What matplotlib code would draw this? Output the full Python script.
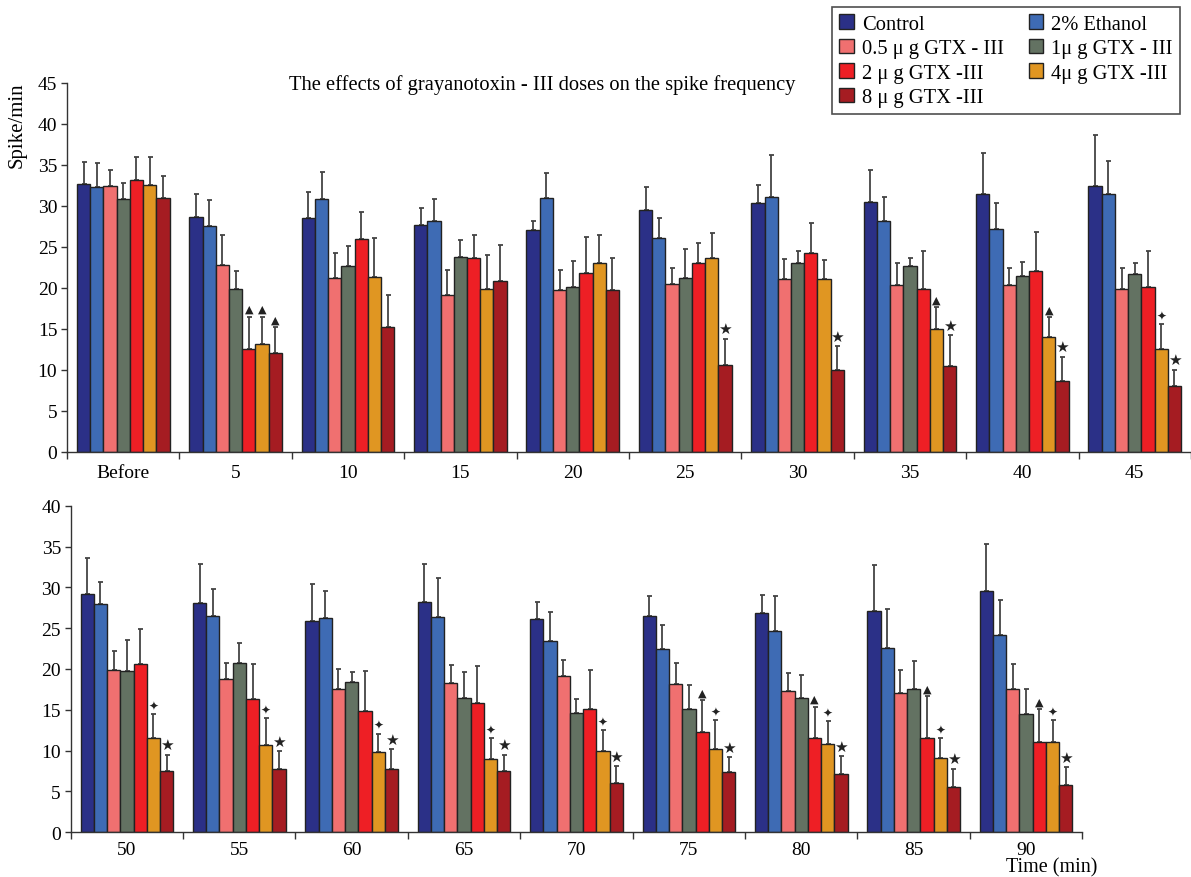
import matplotlib
matplotlib.use('Agg')
import matplotlib.pyplot as plt
import numpy as np

# serif font, close to the original's typeface
plt.rcParams['font.family'] = ['Liberation Serif', 'DejaVu Serif']

times = ['Before', '5', '10', '15', '20', '25', '30', '35', '40', '45',
         '50', '55', '60', '65', '70', '75', '80', '85', '90']

series_names = ['Control', '2% Ethanol', '0.5 μ g GTX - III', '1μ g GTX - III',
                '2 μ g GTX -III', '4μ g GTX -III', '8 μ g GTX -III']
colors = ['#2B3087', '#3E6BB4', '#F07070', '#637262', '#EE1F25', '#E09622', '#A51C22']

# mean spike/min for each series
control = [32.7, 28.7, 28.5, 27.7, 27.1, 29.5, 30.4, 30.5, 31.4, 32.4,
           29.2, 28.1, 25.9, 28.2, 26.1, 26.5, 26.9, 27.1, 29.6]
ethanol = [32.3, 27.5, 30.9, 28.2, 31.0, 26.1, 31.1, 28.1, 27.2, 31.5,
           27.9, 26.5, 26.3, 26.4, 23.4, 22.5, 24.7, 22.6, 24.2]
gtx_05 = [32.4, 22.8, 21.2, 19.1, 19.7, 20.5, 21.1, 20.3, 20.3, 19.8,
          19.9, 18.8, 17.6, 18.3, 19.1, 18.2, 17.3, 17.1, 17.6]
gtx_1 = [30.8, 19.9, 22.7, 23.8, 20.1, 21.2, 23.0, 22.7, 21.4, 21.7,
         19.7, 20.7, 18.4, 16.5, 14.6, 15.1, 16.5, 17.6, 14.5]
gtx_2 = [33.2, 12.5, 26.0, 23.6, 21.8, 23.0, 24.2, 19.9, 22.1, 20.1,
         20.6, 16.3, 14.9, 15.8, 15.1, 12.3, 11.5, 11.6, 11.0]
gtx_4 = [32.6, 13.1, 21.3, 19.9, 23.0, 23.6, 21.1, 15.0, 14.0, 12.5,
         11.5, 10.7, 9.8, 9.0, 10.0, 10.2, 10.8, 9.1, 11.0]
gtx_8 = [31.0, 12.1, 15.2, 20.8, 19.7, 10.6, 10.0, 10.5, 8.6, 8.0,
         7.5, 7.8, 7.8, 7.5, 6.0, 7.4, 7.1, 5.5, 5.8]

# upper error bars
control_err = [2.7, 2.7, 3.2, 2.1, 1.1, 2.8, 2.2, 3.9, 5.0, 6.2,
               4.4, 4.7, 4.5, 4.6, 2.1, 2.4, 2.2, 5.6, 5.7]
ethanol_err = [2.9, 3.2, 3.2, 2.7, 3.0, 2.4, 5.1, 3.0, 3.2, 4.0,
               2.7, 3.3, 3.3, 4.7, 3.6, 2.9, 4.2, 4.7, 4.2]
gtx_05_err = [2.0, 3.6, 3.0, 3.1, 2.5, 1.9, 2.4, 2.7, 2.1, 2.6,
              2.3, 1.9, 2.4, 2.2, 2.0, 2.5, 2.2, 2.8, 3.0]
gtx_1_err = [2.0, 2.2, 2.4, 2.0, 3.2, 3.5, 1.5, 0.9, 1.8, 1.3,
             3.9, 2.5, 1.2, 3.1, 1.7, 2.9, 2.8, 3.4, 3.1]
gtx_2_err = [2.8, 4.0, 3.2, 2.9, 4.4, 2.5, 3.7, 4.6, 4.7, 4.4,
             4.3, 4.3, 4.9, 4.6, 4.8, 3.9, 3.9, 5.1, 4.1]
gtx_4_err = [3.4, 3.4, 4.8, 4.1, 3.4, 3.1, 2.3, 2.6, 2.4, 3.1,
             3.0, 3.3, 2.3, 2.6, 2.5, 3.5, 2.8, 2.5, 2.7]
gtx_8_err = [2.6, 3.1, 3.9, 4.4, 4.0, 3.2, 2.9, 3.7, 3.0, 2.0,
             2.0, 2.1, 2.4, 2.0, 2.1, 1.8, 2.2, 2.3, 2.2]

# significance marks above the 2, 4 and 8 ug bars
TRI, CROSS, STAR = '▲', '✦', '★'
sig_2ug = ['', TRI, '', '', '', '', '', '', '', '',
           '', '', '', '', '', TRI, TRI, TRI, TRI]
sig_4ug = ['', TRI, '', '', '', '', '', TRI, TRI, CROSS,
           CROSS, CROSS, CROSS, CROSS, CROSS, CROSS, CROSS, CROSS, CROSS]
sig_8ug = ['', TRI, '', '', '', STAR, STAR, STAR, STAR, STAR,
           STAR, STAR, STAR, STAR, STAR, STAR, STAR, STAR, STAR]

means = [control, ethanol, gtx_05, gtx_1, gtx_2, gtx_4, gtx_8]
errs = [control_err, ethanol_err, gtx_05_err, gtx_1_err, gtx_2_err, gtx_4_err, gtx_8_err]
sigs = {4: sig_2ug, 5: sig_4ug, 6: sig_8ug}
sig_size = {TRI: 8, CROSS: 8.5, STAR: 11}

W, H = 1191, 878
fig = plt.figure(figsize=(W / 100, H / 100), dpi=100)


def px_rect(x0, y0, x1, y1):
    return [x0 / W, 1 - y1 / H, (x1 - x0) / W, (y1 - y0) / H]


ax_top = fig.add_axes(px_rect(67, 84, 1191, 452.7))
ax_bot = fig.add_axes(px_rect(70.7, 506.7, 1082.3, 833.3))

bar_w = 0.824 / 7
FS = 14
FS_TEXT = 14.8


def draw_panel(ax, start, stop, ymax, label_pad):
    n = stop - start
    x = np.arange(n)
    bars = []
    for i in range(7):
        pos = x + (i - 3) * bar_w
        vals = np.array(means[i][start:stop])
        e = np.array(errs[i][start:stop])
        b = ax.bar(pos, vals, bar_w, color=colors[i], edgecolor='#222222',
                   linewidth=1, zorder=2, label=series_names[i])
        bars.append(b)
        ax.errorbar(pos, vals, yerr=[np.zeros(n), e], fmt='none', ecolor='#444444',
                    elinewidth=1.3, capsize=1.8, capthick=1.3, zorder=1)
        if i in sigs:
            for k, s in enumerate(sigs[i][start:stop]):
                if s:
                    ax.text(pos[k], vals[k] + e[k] + 0.3, s, ha='center', va='bottom',
                            fontsize=sig_size[s], family='DejaVu Sans', color='#222222')

    ax.set_xlim(-0.5, n - 0.5)
    ax.set_ylim(0, ymax)
    ax.set_yticks(np.arange(0, ymax + 1, 5))
    ax.set_xticks(np.arange(n + 1) - 0.5)
    ax.set_xticklabels([])
    ax.set_xticks(x, minor=True)
    ax.set_xticklabels(times[start:stop], minor=True)
    ax.tick_params(axis='x', which='minor', length=0, pad=label_pad, labelsize=FS)
    ax.tick_params(axis='x', which='major', length=5, width=1, color='#333333')
    ax.tick_params(axis='y', length=4, width=1, color='#333333', labelsize=FS, pad=3)
    for side in ('top', 'right'):
        ax.spines[side].set_visible(False)
    for side in ('left', 'bottom'):
        ax.spines[side].set_color('#333333')
        ax.spines[side].set_linewidth(1)
    return bars


bars = draw_panel(ax_top, 0, 10, 45, 9)
draw_panel(ax_bot, 10, 19, 40, 6)

fig.text(289 / W, 1 - 85 / H, 'The effects of grayanotoxin - III doses on the spike frequency',
         ha='left', va='center', fontsize=FS_TEXT)
fig.text(17 / W, 1 - 82 / H, 'Spike/min', rotation=90, ha='center', va='top', fontsize=15)
fig.text(1052 / W, 1 - 872 / H, 'Time (min)', ha='center', va='baseline', fontsize=14.5)

order = [0, 2, 4, 6, 1, 3, 5]
leg = fig.legend([bars[i] for i in order], [series_names[i] for i in order],
                 loc='upper right', bbox_to_anchor=(1180 / W, 1 - 8 / H),
                 bbox_transform=fig.transFigure, ncol=2, fontsize=FS_TEXT,
                 frameon=True, fancybox=False, edgecolor='#222222',
                 handlelength=0.7, handleheight=0.7, handletextpad=0.4,
                 labelspacing=0.25, columnspacing=1.2, borderpad=0.35,
                 borderaxespad=0)
leg.get_frame().set_linewidth(1.2)

fig.savefig('out.png', dpi=100)
